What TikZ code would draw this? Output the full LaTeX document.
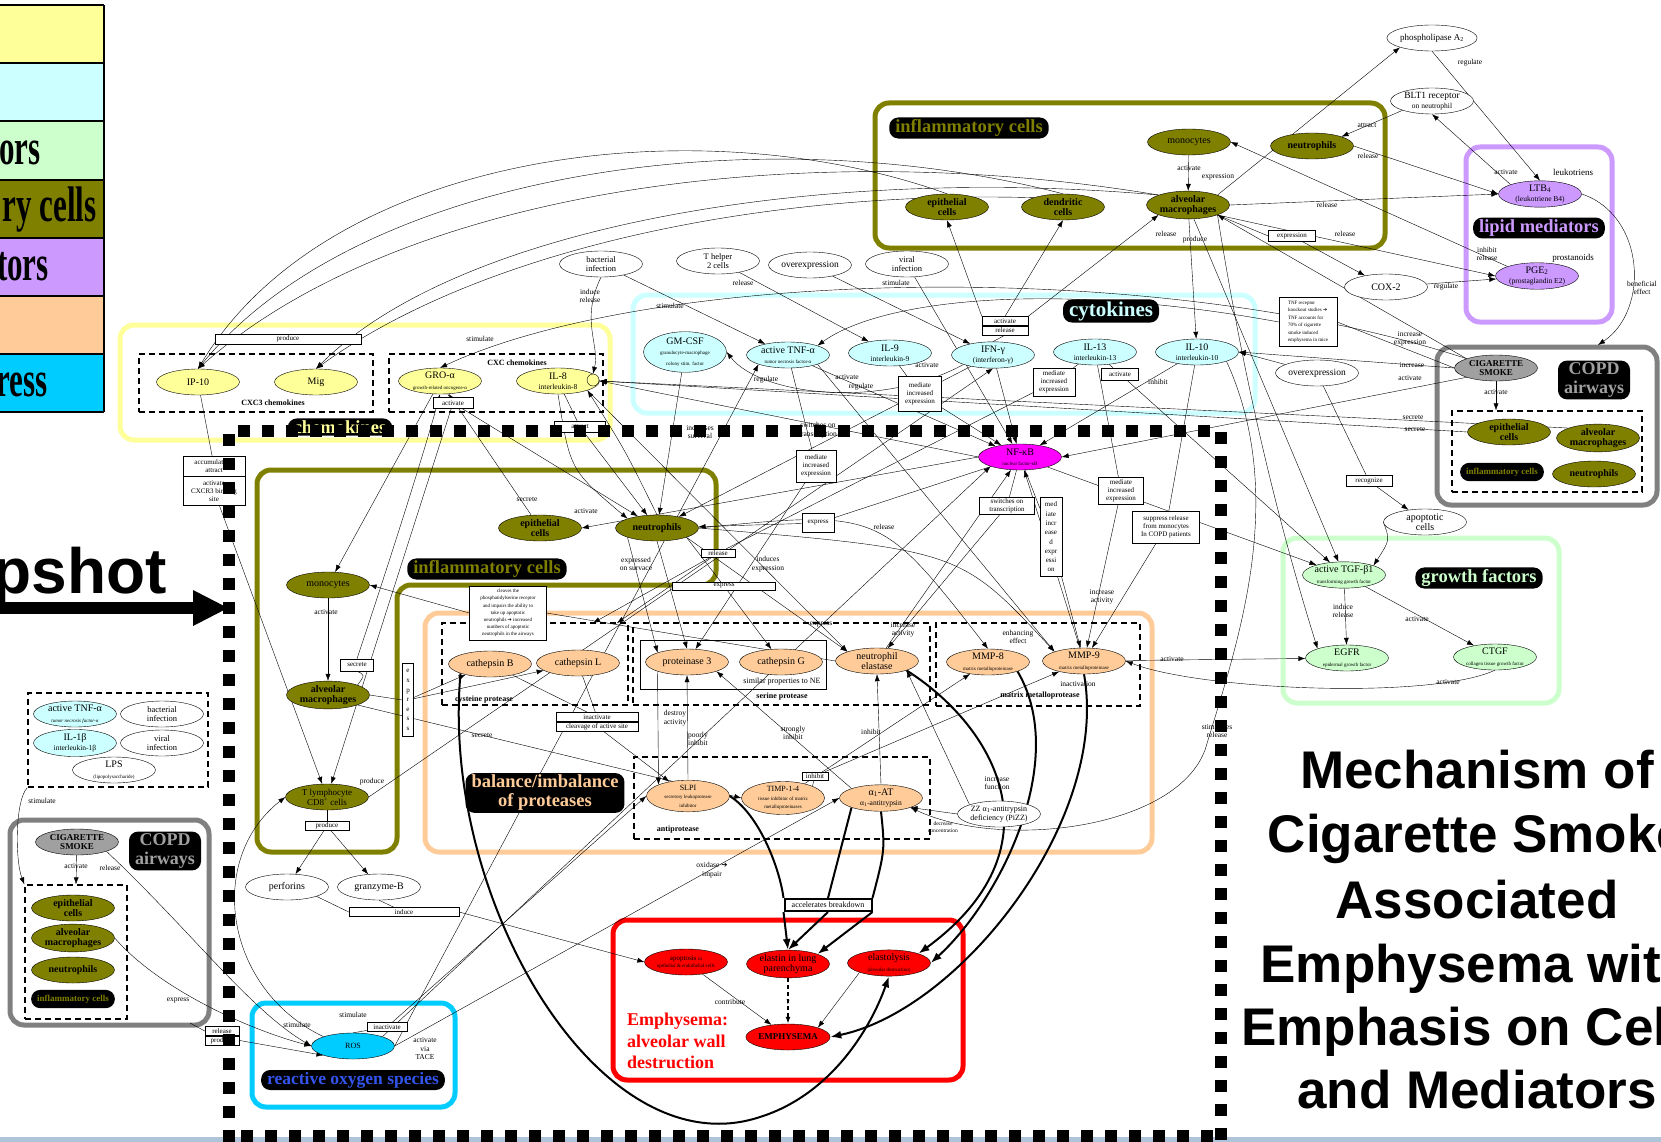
\documentclass[tikz,border=0pt]{standalone}
\usepackage{fontspec}
\setmainfont{Liberation Serif}
\newfontfamily\titlefont{Liberation Sans}
\newfontfamily\symfont{DejaVu Sans}
\usepackage{graphicx}
\usepackage{tikz}
\usetikzlibrary{arrows.meta,positioning,shapes}
\pgfdeclarelayer{background layer}
\pgfdeclarelayer{edge layer}
\pgfsetlayers{background layer,edge layer,main}
\definecolor{chemo}{HTML}{FFFF99}
\definecolor{cyto}{HTML}{CCFFFF}
\definecolor{growth}{HTML}{CCFFCC}
\definecolor{infl}{HTML}{808000}
\definecolor{lipid}{HTML}{CC99FF}
\definecolor{prot}{HTML}{FFCC99}
\definecolor{oxy}{HTML}{00CCFF}
\definecolor{copd}{HTML}{808080}
\definecolor{smoke}{HTML}{A0A0A0}
\definecolor{nfkbc}{HTML}{FF00FF}
\definecolor{strip}{HTML}{AFC4D8}
\definecolor{rosblue}{HTML}{3355EE}
\newcommand{\subl}[1]{{\fontsize{5}{6}\selectfont #1}}
\newcommand{\subm}[1]{{\fontsize{7.5}{8}\selectfont #1}}
\newcommand{\rarr}{{\symfont ➔}}

\begin{document}
\begin{tikzpicture}[x=1pt,y=-1pt,line width=0.7pt]
\tikzstyle{arrow}=[->,>={Latex[length=7pt,width=5pt]}]
\tikzstyle{heavy}=[line width=2pt,->,>={Latex[length=11pt,width=8pt]}]
\tikzstyle{ell}=[draw,ellipse,minimum width=83pt,minimum height=26pt,inner sep=0pt,align=center,font=\fontsize{10}{10.5}\selectfont]
\tikzstyle{whiteell}=[ell,fill=white]
\tikzstyle{chemell}=[ell,fill=chemo]
\tikzstyle{cytoell}=[ell,fill=cyto]
\tikzstyle{growell}=[ell,fill=growth]
\tikzstyle{lipell}=[ell,fill=lipid]
\tikzstyle{protell}=[ell,fill=prot]
\tikzstyle{redell}=[ell,fill=red]
\tikzstyle{magell}=[ell,fill=nfkbc]
\tikzstyle{olivecell}=[ell,fill=infl,font=\bfseries\fontsize{10}{10.5}\selectfont]
\tikzstyle{clusterframe}=[line width=5pt,rounded corners=14pt]
\tikzstyle{ctitle}=[fill=black,rounded corners=9pt,inner xsep=6pt,inner ysep=2pt,align=center,font=\bfseries\fontsize{18.5}{19}\selectfont]
\tikzstyle{dbox}=[draw,line width=1.3pt,dash pattern=on 6pt off 4pt,inner sep=0pt]
\tikzstyle{lbox}=[draw,fill=white,inner sep=0.5pt,align=center,font=\fontsize{7}{8}\selectfont]
\tikzstyle{elabel}=[inner sep=0.5pt,align=center,font=\fontsize{7.5}{8.5}\selectfont]
\tikzstyle{legtext}=[anchor=base east,inner sep=0pt,font=\bfseries\fontsize{50}{50}\selectfont]
\tikzstyle{bigtitle}=[anchor=base,inner sep=0pt,font=\titlefont\bfseries\fontsize{53}{53}\selectfont]
\useasboundingbox (0,0) rectangle (1661,1142);

% legend and snapshot arrow
\fill[chemo] (0,5) rectangle (104,63);
\fill[cyto] (0,63) rectangle (104,121);
\fill[growth] (0,121) rectangle (104,180);
\fill[infl] (0,180) rectangle (104,238);
\fill[lipid] (0,238) rectangle (104,296);
\fill[prot] (0,296) rectangle (104,354);
\fill[oxy] (0,354) rectangle (104,412);
\foreach \y in {5,63,121,180,238,296,354,412}
  \draw[line width=1.2pt] (0,\y) -- (104,\y);
\draw[line width=1.2pt] (104,5) -- (104,412);
\node[legtext] (lg1) at (41,165) {\scalebox{0.62}[1]{ors}};
\node[legtext] (lg2) at (97,222) {\scalebox{0.62}[1]{ry cells}};
\node[legtext] (lg3) at (49,280) {\scalebox{0.62}[1]{tors}};
\node[legtext] (lg4) at (48,396) {\scalebox{0.62}[1]{ress}};
\node[anchor=base east,inner sep=0pt,font=\titlefont\bfseries\fontsize{64}{64}\selectfont] (snap) at (167,593) {pshot};
\fill (0,602) rectangle (195,614);
\fill (193,590) -- (228,608) -- (193,626) -- cycle;
\fill[strip] (0,1137) rectangle (1661,1142);

\node[bigtitle] (t1) at (1477,788) {Mechanism of};
\node[bigtitle] (t2) at (1477,852) {Cigarette Smoke};
\node[bigtitle] (t3) at (1477,918) {Associated};
\node[bigtitle] (t4) at (1477,982) {Emphysema with};
\node[bigtitle] (t5) at (1477,1045) {Emphasis on Cells};
\node[bigtitle] (t6) at (1477,1108) {and Mediators};

\begin{pgfonlayer}{background layer}
\draw[clusterframe,draw=chemo] (120,325) rectangle (610,440);
\draw[clusterframe,draw=cyto] (633,295) rectangle (1255,413);
\draw[clusterframe,draw=infl] (875,103) rectangle (1385,248);
\draw[clusterframe,draw=lipid] (1466,147) rectangle (1612,322);
\draw[clusterframe,draw=copd] (1437,347) rectangle (1657,505);
\draw[clusterframe,draw=growth] (1283,538) rectangle (1559,703);
\draw[clusterframe,draw=infl] (257,470) -- (716,470) -- (716,585) -- (397,585) -- (397,852) -- (257,852) -- cycle;
\draw[clusterframe,draw=prot] (425,613) rectangle (1152,852);
\draw[clusterframe,draw=red] (613,920) rectangle (963,1080);
\draw[clusterframe,draw=oxy] (252,1003) rectangle (455,1107);
\draw[clusterframe,draw=copd] (10,820) rectangle (209,1025);
\end{pgfonlayer}

% chemokines
\node[dbox,minimum width=234pt,minimum height=58pt] (cxc3) at (256,383) {};
\node[dbox,minimum width=214pt,minimum height=58pt] (cxc) at (496,383) {};
\node[font=\bfseries\fontsize{8}{8}\selectfont] (cxc3lab) at (273,403) {CXC3 chemokines};
\node[font=\bfseries\fontsize{8}{8}\selectfont] (cxclab) at (517,363) {CXC chemokines};
\node[chemell] (ip10) at (198,382) {IP-10};
\node[chemell] (mig) at (316,382) {Mig};
\node[chemell] (groa) at (440,381) {GRO-α\\\subl{growth-related oncogene-α}};
\node[chemell] (il8) at (558,381) {IL-8\\\subm{interleukin-8}};
\node[draw,circle,fill=chemo,minimum size=12pt,inner sep=0pt] (il8r) at (593,380) {};
\node[lbox,minimum width=146pt,minimum height=10pt] (prbox) at (288,339) {produce};
\node[lbox,minimum width=40pt,minimum height=11pt] (gactbox) at (453,403) {activate};
\node[lbox,minimum width=51pt,minimum height=11pt] (attbox) at (580,427) {attract};
\node[ctitle,text=chemo] (chemT) at (340,427) {chemokines};

% cytokines
\node[cytoell] (gmcsf) at (685,352) {GM-CSF\\\subl{granulocyte-macrophage}\\\subl{colony stim. factor}};
\node[cytoell] (tnfa) at (788,355) {active TNF-α\\\subl{tumor necrosis factor-α}};
\node[cytoell] (il9) at (890,353) {IL-9\\\subm{interleukin-9}};
\node[cytoell] (ifng) at (993,355) {IFN-γ\\\subm{(interferon-γ)}};
\node[cytoell] (il13) at (1095,352) {IL-13\\\subm{interleukin-13}};
\node[cytoell] (il10) at (1197,352) {IL-10\\\subm{interleukin-10}};
\node[lbox,minimum width=46pt,minimum height=9pt] (actbox) at (1005,321) {activate};
\node[lbox,minimum width=46pt,minimum height=9pt,below=0pt of actbox] (relbox) {release};
\node[lbox,minimum width=43pt,minimum height=35pt] (med1) at (920,394) {mediate\\increased\\expression};
\node[lbox,minimum width=42pt,minimum height=28pt] (med2) at (1054,382) {mediate\\increased\\expression};
\node[lbox,minimum width=37pt,minimum height=12pt] (act2) at (1120,374) {activate};
\node[ctitle,text=cyto,font=\bfseries\fontsize{21}{21}\selectfont] (cytT) at (1111,311) {cytokines};
\node[whiteell,font=\fontsize{8.5}{9}\selectfont] (bact) at (601,264) {bacterial\\infection};
\node[whiteell,font=\fontsize{8.5}{9}\selectfont] (th2) at (718,261) {T helper\\2 cells};
\node[whiteell,font=\fontsize{9.5}{10}\selectfont] (overT) at (810,265) {overexpression};
\node[whiteell,font=\fontsize{8.5}{9}\selectfont] (viral) at (907,264) {viral\\infection};

% inflammatory cells, top
\node[ctitle,text=infl] (inflT) at (969,128) {inflammatory cells};
\node[olivecell,font=\fontsize{10}{10.5}\selectfont] (monoT) at (1189,142) {monocytes};
\node[olivecell] (neutT) at (1312,146) {neutrophils};
\node[olivecell] (epiT) at (947,207) {epithelial\\cells};
\node[olivecell] (dendT) at (1063,207) {dendritic\\cells};
\node[olivecell] (amT) at (1188,205) {alveolar\\macrophages};
\node[whiteell,font=\fontsize{9}{9}\selectfont] (pla) at (1432,38) {phospholipase A\textsubscript{2}};
\node[whiteell,font=\fontsize{9.5}{9.5}\selectfont] (blt) at (1432,101) {BLT1 receptor\\\subm{on neutrophil}};
\node[whiteell] (cox2) at (1386,287) {COX-2};
\node[lbox,minimum width=47pt,minimum height=11pt] (exbox) at (1292,236) {expression};
\node[lbox,minimum width=58pt,minimum height=49pt,align=left,font=\fontsize{5}{7.5}\selectfont] (tnfrbox) at (1308,322) {TNF receptor\\knockout studies \rarr\\TNF accounts for\\70\% of cigarette\\smoke induced\\emphysema in mice};
\node[whiteell,font=\fontsize{9.5}{10}\selectfont] (overR) at (1317,373) {overexpression};

% lipid mediators
\node[lipell] (ltb4) at (1540,194) {LTB\textsubscript{4}\\\subm{(leukotriene B4)}};
\node[lipell] (pge2) at (1537,276) {PGE\textsubscript{2}\\\subm{(prostaglandin E2)}};
\node[ctitle,text=lipid] (lipT) at (1539,228) {lipid mediators};

% COPD airways, right
\node[ell,fill=smoke,font=\bfseries\fontsize{9}{9.5}\selectfont] (smokeR) at (1496,368) {CIGARETTE\\SMOKE};
\node[ctitle,text=smoke,font=\bfseries\fontsize{18}{19}\selectfont] (copdRT) at (1594,380) {COPD\\airways};
\node[dbox,minimum width=190pt,minimum height=81pt] (dashR) at (1547,451.5) {};
\node[olivecell] (epiR) at (1509,432) {epithelial\\cells};
\node[olivecell] (amR) at (1598,438) {alveolar\\macrophages};
\node[ctitle,text=infl,font=\bfseries\fontsize{9}{9}\selectfont,inner ysep=5pt] (inflR) at (1502,472) {inflammatory cells};
\node[olivecell] (neutR) at (1594,474) {neutrophils};
\coordinate (copdtop) at (1598,345);

% growth factors
\node[ctitle,text=growth] (growT) at (1479,578) {growth factors};
\node[growell] (tgf) at (1344,575) {active TGF-β1\\\subl{transforming growth factor}};
\node[growell] (egfr) at (1347,658) {EGFR\\\subl{epidermal growth factor}};
\node[growell] (ctgf) at (1495,657) {CTGF\\\subl{collagen tissue growth factor}};
\node[whiteell] (apop) at (1425,522) {apoptotic\\cells};
\node[lbox,minimum width=46pt,minimum height=11pt] (recbox) at (1369,481) {recognize};

% inflammatory cells, middle
\node[ctitle,text=infl] (inflMT) at (487,569) {inflammatory cells};
\node[olivecell] (epiM) at (540,528) {epithelial\\cells};
\node[olivecell] (neutM) at (657,528) {neutrophils};
\node[olivecell,font=\fontsize{10}{10.5}\selectfont] (monoM) at (328,585) {monocytes};
\node[olivecell] (amM) at (328,695) {alveolar\\macrophages};
\node[olivecell,font=\fontsize{9}{10}\selectfont] (tlym) at (327,797) {T lymphocyte\\CD8\textsuperscript{+} cells};
\node[lbox,minimum width=62pt,minimum height=20pt] (accbox) at (214,466) {accumulate \&\\attract};
\node[lbox,minimum width=62pt,minimum height=29pt,below=0pt of accbox] (actbox3) {activate\\CXCR3 binding\\site};
\node[lbox,minimum width=33pt,minimum height=12pt] (secbox) at (357,665) {secrete};
\node[lbox,minimum width=11pt,minimum height=73pt,font=\fontsize{7}{9.6}\selectfont] (exbox1) at (408,700) {e\\x\\p\\r\\e\\s\\s};
\node[lbox,minimum width=44pt,minimum height=9pt] (prbox2) at (327,826) {produce};

% proteases
\node[ctitle,text=prot] (protT) at (545,793) {balance/imbalance\\of proteases};
\node[dbox,minimum width=186pt,minimum height=82pt] (cys) at (535,664) {};
\node[dbox,minimum width=297pt,minimum height=82pt] (ser) at (781.5,664) {};
\node[draw,line width=1pt,minimum width=186pt,minimum height=49pt,inner sep=0pt] (nebox) at (733,664.5) {};
\node[dbox,minimum width=204pt,minimum height=83pt] (mmp) at (1038,664.5) {};
\node[dbox,minimum width=296pt,minimum height=82pt] (anti) at (782,798) {};
\node[font=\bfseries\fontsize{8}{8}\selectfont] (cyslab) at (484,700) {cysteine protease};
\node[font=\bfseries\fontsize{8}{8}\selectfont] (serlab) at (782,697) {serine protease};
\node[font=\fontsize{8}{8}\selectfont] (nelab) at (782,682) {similar properties to NE};
\node[font=\bfseries\fontsize{8}{8}\selectfont] (mmplab) at (1040,696) {matrix metalloprotease};
\node[font=\bfseries\fontsize{8}{8}\selectfont] (antilab) at (678,830) {antiprotease};
\node[protell] (catb) at (490,664) {cathepsin B};
\node[protell] (catl) at (578,663) {cathepsin L};
\node[protell] (pr3) at (687,662) {proteinase 3};
\node[protell] (catg) at (781,662) {cathepsin G};
\node[protell] (ne) at (877,661) {neutrophil\\elastase};
\node[protell] (mmp8) at (988,662) {MMP-8\\\subl{matrix metalloproteinase}};
\node[protell] (mmp9) at (1084,661) {MMP-9\\\subl{matrix metalloproteinase}};
\node[protell,font=\fontsize{8}{8.5}\selectfont] (slpi) at (688,796) {SLPI\\\subl{secretory leukoprotease}\\\subl{inhibitor}};
\node[protell,font=\fontsize{8}{8.5}\selectfont] (timp) at (783,798) {TIMP-1-4\\\subl{tissue inhibitor of matrix}\\\subl{metalloproteinases}};
\node[protell] (a1at) at (881,798) {α\textsubscript{1}-AT\\\subm{α\textsubscript{1}-antitrypsin}};
\node[whiteell,font=\fontsize{8}{9}\selectfont] (zz) at (999,814) {ZZ α\textsubscript{1}-antitrypsin\\deficiency (PiZZ)};
\node[lbox,minimum width=77pt,minimum height=54pt,font=\fontsize{5}{7.2}\selectfont] (clvbox) at (508,613) {cleaves the\\phosphatidylserine receptor\\and impairs the ability to\\take up apoptotic\\neutrophils \rarr\ increased\\numbers of apoptotic\\neutrophils in the airways};
\node[lbox,minimum width=82pt,minimum height=9pt] (inbox1) at (597,717) {inactivate};
\node[lbox,minimum width=82pt,minimum height=9pt,below=0pt of inbox1] (inbox2) {cleavage of active site};
\node[lbox,minimum width=34pt,minimum height=8pt] (relbox2) at (718,553) {release};
\node[lbox,minimum width=103pt,minimum height=8pt] (exbox2) at (724,586) {express};
\node[lbox,minimum width=32pt,minimum height=19pt] (exbox3) at (818,523) {express};
\node[lbox,minimum width=26pt,minimum height=8pt] (inhbox) at (815,776) {inhibit};
\node[lbox,minimum width=40pt,minimum height=32pt] (med3) at (816,466) {mediate\\increased\\expression};
\node[magell] (nfkb) at (1020,457) {NF-κB\\\subl{nuclear factor-κB}};
\node[lbox,minimum width=55pt,minimum height=17pt] (swbox) at (1007,506) {switches on\\transcription};
\node[lbox,minimum width=22pt,minimum height=79pt,font=\fontsize{7}{9.3}\selectfont] (medv) at (1051,537) {med\\iate\\incr\\ease\\d\\expr\\essi\\on};
\node[lbox,minimum width=45pt,minimum height=27pt] (med4) at (1121,491) {mediate\\increased\\expression};
\node[lbox,minimum width=67pt,minimum height=32pt] (supbox) at (1166,527) {suppress release\\from monocytes\\In COPD patients};
\coordinate (cysin1) at (593,623);
\coordinate (cysin2) at (617,623);

% emphysema
\node[redell,font=\fontsize{7}{7.5}\selectfont] (apopt) at (686,962) {apoptosis {\fontsize{5}{5}\selectfont in}\\\subl{epithelial \& endothelial cells}};
\node[redell] (elastin) at (788,964) {elastin in lung\\parenchyma};
\node[redell] (elast) at (889,963) {elastolysis\\\subl{(alveolar destruction)}};
\node[redell,font=\bfseries\fontsize{9}{9}\selectfont] (emph) at (788,1037) {EMPHYSEMA};
\node[lbox,line width=2pt,minimum width=87pt,minimum height=12pt,font=\fontsize{8}{8}\selectfont] (accel) at (828,905) {accelerates breakdown};
\node[anchor=north west,align=left,text=red,inner sep=0pt,font=\bfseries\fontsize{18}{21.5}\selectfont] (emphtxt) at (627,1013) {Emphysema:\\alveolar wall\\destruction};

% reactive oxygen species
\node[ell,fill=oxy,font=\fontsize{8}{8}\selectfont] (ros) at (353,1046) {ROS};
\node[ctitle,text=rosblue,font=\bfseries\fontsize{17.5}{18}\selectfont] (rosT) at (353,1080) {reactive oxygen species};
\node[whiteell] (perf) at (287,887) {perforins};
\node[whiteell] (gran) at (379,887) {granzyme-B};
\node[lbox,minimum width=110pt,minimum height=9pt] (indbox) at (404,912) {induce};
\node[lbox,minimum width=40pt,minimum height=9pt] (inbox4) at (387,1027) {inactivate};

% COPD airways, left
\node[ell,fill=smoke,font=\bfseries\fontsize{9}{9.5}\selectfont] (smokeL) at (77,842) {CIGARETTE\\SMOKE};
\node[ctitle,text=smoke,font=\bfseries\fontsize{18}{19}\selectfont] (copdLT) at (165,851) {COPD\\airways};
\node[dbox,minimum width=102pt,minimum height=134pt] (dashL) at (76,952) {};
\node[olivecell] (epiL) at (73,908) {epithelial\\cells};
\node[olivecell] (amL) at (73,938) {alveolar\\macrophages};
\node[olivecell] (neutL) at (73,970) {neutrophils};
\node[ctitle,text=infl,font=\bfseries\fontsize{9}{9}\selectfont,inner ysep=5pt] (inflL) at (73,999) {inflammatory cells};
\node[lbox,minimum width=34pt,minimum height=9pt] (rpbox1) at (222,1031) {release};
\node[lbox,minimum width=34pt,minimum height=9pt,below=0pt of rpbox1] (rpbox2) {produce};
\coordinate (copdLbot) at (190,1023);
\node[dbox,minimum width=180pt,minimum height=94pt] (smallbox) at (118,740) {};
\node[cytoell] (tnfL) at (75,714) {active TNF-α\\\subl{\itshape tumor necrosis factor-α}};
\node[whiteell,font=\fontsize{8.5}{9}\selectfont] (bactL) at (162,714) {bacterial\\infection};
\node[cytoell] (il1b) at (75,743) {IL-1β\\\subm{interleukin-1β}};
\node[whiteell,font=\fontsize{8.5}{9}\selectfont] (viralL) at (162,743) {viral\\infection};
\node[whiteell] (lps) at (114,770) {LPS\\\subl{(lipopolysaccharide)}};

\begin{pgfonlayer}{edge layer}
\draw[arrow] (epiT.north) .. controls (700,105) and (330,150) .. (ip10.north);
\draw[arrow] (dendT.north) .. controls (760,115) and (360,170) .. (ip10.north);
\draw[arrow] (amT.north west) .. controls (800,135) and (400,190) .. (ip10.north);
\draw[arrow] (amT.north west) .. controls (820,165) and (460,225) .. (mig.north);
\draw[arrow] (dendT.north west) .. controls (760,190) and (480,250) .. (mig.north);
\draw[arrow] (monoT) -- (amT);
\draw[arrow] (amT.north east) -- (pla.south west);
\draw[arrow] (pla.south) -- (ltb4.north);
\draw[arrow] (blt.south west) -- (neutT.north east);
\draw[arrow] (ltb4.north west) -- (blt.south);
\draw[arrow] (neutT.east) -- (ltb4.west);
\draw[arrow] (amT.east) -- (ltb4.west);
\draw[arrow] (amT.south east) -- (pge2.west);
\draw (amT.south east) -- (exbox.west);
\draw[arrow] (exbox) -- (cox2);
\draw[arrow] (cox2) -- (pge2);
\draw[arrow] (pge2.north west) -- (monoT.east);
\draw[arrow] (ltb4.east) .. controls (1645,215) and (1650,310) .. (copdtop);
\draw[arrow] (smokeR.west) -- (il10.east);
\draw[arrow] (overR) -- (il10.east);
\draw[arrow] (smokeR.south west) -- (nfkb.east);
\draw[arrow] (smokeR.north west) -- (amT.south east);
\draw (smokeR.west) -- (tnfrbox.east);
\draw[arrow] (tnfrbox.west) .. controls (1050,280) and (880,300) .. (tnfa.north east);
\draw[arrow] (epiR.west) -- (il8.east);
\draw[arrow] (amR.north west) -- (il8.east);
\draw[arrow] (smokeR.north west) .. controls (1150,255) and (650,270) .. (groa.north);
\draw[arrow] (bact) -- (tnfa);
\draw[arrow] (bact.south) .. controls (580,320) and (600,345) .. (il8r.north);
\draw[arrow] (th2) -- (il9);
\draw[arrow] (overT) -- (ifng);
\draw[arrow] (viral) -- (nfkb);
\draw (ifng.north) -- (relbox.south);
\draw[arrow] (actbox.north west) -- (epiT.south);
\draw[arrow] (actbox.north) -- (dendT.south);
\draw[arrow] (actbox.north east) -- (amT.south west);
\draw[arrow] (ifng.south west) .. controls (880,410) and (760,395) .. (gmcsf.east);
\draw[arrow] (tnfa) -- (nfkb);
\draw[arrow] (tnfa.south east) -- (mmp9.north west);
\draw (il9) -- (med1);
\draw[arrow] (med1) -- (nfkb);
\draw[arrow] (ifng) -- (neutM);
\draw[arrow] (ifng) -- (nfkb);
\draw (il13) -- (med2);
\draw (med2) -- (relbox2);
\draw[arrow] (relbox2) -- (cysin1);
\draw[arrow] (relbox2) -- (cysin2);
\draw (il13) -- (act2);
\draw[arrow] (act2) -- (tgf);
\draw[arrow] (il10) -- (nfkb);
\draw (il13) -- (med4);
\draw[arrow] (med4) -- (mmp9);
\draw (il10) -- (supbox);
\draw[arrow] (supbox) -- (mmp9);
\draw[arrow] (amT) -- (il10);
\draw[arrow] (amT) -- (tgf);
\draw[arrow] (amT.south east) .. controls (1250,420) and (1290,560) .. (egfr.north west);
\draw (overR) -- (recbox);
\draw[arrow] (recbox) -- (apop);
\draw[arrow] (apop.west) .. controls (1390,540) .. (tgf.north east);
\draw[arrow] (nfkb) -- (tgf);
\draw[arrow] (tgf) -- (egfr);
\draw[arrow] (tgf) -- (ctgf);
\draw[arrow] (ctgf.south) .. controls (1430,700) and (1200,690) .. (mmp9.east);
\draw[arrow] (mmp9) -- (egfr);
\draw (ip10) -- (accbox);
\draw[arrow] (actbox3) -- (tlym);
\draw[arrow] (groa) -- (monoM);
\draw (groa) -- (gactbox);
\draw[arrow] (gactbox) -- (neutM);
\draw[arrow] (gactbox) -- (tlym);
\draw (amM.north east) .. controls (365,675) .. (secbox.south);
\draw[arrow] (secbox.north) .. controls (390,560) and (425,450) .. (groa.south);
\draw[arrow] (epiM) -- (groa);
\draw[arrow] (nfkb.west) -- (epiM.east);
\draw[arrow] (il8.south) .. controls (570,470) .. (neutM.north west);
\draw (il8) -- (attbox);
\draw[arrow] (attbox) -- (neutM);
\draw[arrow] (neutM.north) .. controls (625,450) .. (il8.south east);
\draw[arrow] (gmcsf) -- (neutM);
\draw[arrow] (nfkb.west) -- (il8.east);
\draw (tnfa) -- (med3);
\draw[arrow] (med3) -- (pr3);
\draw (nfkb) -- (exbox3);
\draw[arrow] (exbox3) -- (neutM);
\draw[arrow] (neutM.south west) -- (pr3.north west);
\draw[arrow] (neutM.south) -- (pr3.north);
\draw (neutM.south east) -- (exbox2);
\draw[arrow] (exbox2) -- (catg);
\draw[arrow] (neutM.south east) -- (ne.north west);
\draw[arrow] (il8.south east) -- (ne.north west);
\draw[arrow] (neutM.east) .. controls (880,510) .. (mmp8.north);
\draw[arrow] (neutM.east) .. controls (960,550) .. (mmp9.north west);
\draw (ne.west) -- (clvbox.east);
\draw[arrow] (clvbox.west) -- (monoM.east);
\draw (amM.east) -- (exbox1.west);
\draw[arrow] (exbox1) -- (catb);
\draw[arrow] (exbox1) -- (catl);
\draw[arrow] (amM.south east) -- (timp.west);
\draw[arrow] (monoM) -- (amM);
\draw (catb) -- (inbox1);
\draw (catl) -- (inbox1);
\draw[arrow] (inbox2) -- (slpi);
\draw[arrow] (pr3.south west) -- (slpi.north west);
\draw[arrow] (slpi.north) -- (pr3.south);
\draw[arrow] (a1at.north west) -- (pr3.south east);
\draw (timp.north east) -- (inhbox);
\draw[arrow] (inhbox) -- (mmp9);
\draw[arrow] (timp) -- (mmp8);
\draw[arrow] (a1at.north) -- (ne.south);
\draw[arrow] (zz.north west) -- (ne.south east);
\draw[arrow] (zz.west) -- (a1at.south east);
\draw[arrow] (ne) -- (nfkb);
\draw (nfkb) -- (swbox);
\draw[arrow] (swbox) -- (ne);
\draw (nfkb) -- (medv);
\draw[arrow] (medv) -- (mmp9);
\draw[arrow] (mmp9) -- (nfkb);
\draw[arrow] (il10.south east) .. controls (1290,500) and (1235,650) .. (1205,750) .. controls (1175,830) and (1000,850) .. (a1at.south east);
\draw[arrow] (ros.north west) .. controls (225,990) and (205,860) .. (tlym.west);
\draw[arrow] (ros.north east) -- (nfkb.south west);
\draw (ros.north) -- (inbox4);
\draw[arrow] (inbox4) -- (slpi.west);
\draw[arrow] (ros.east) -- (a1at.west);
\draw[arrow] (ros.east) -- (tnfa.south west);
\draw[arrow] (tlym.east) -- (ifng.south);
\draw (tlym) -- (prbox2);
\draw[arrow] (prbox2) -- (perf);
\draw[arrow] (prbox2) -- (gran);
\draw (perf.south east) -- (indbox.west);
\draw (gran.south) -- (indbox);
\draw[arrow] (indbox.east) -- (apopt.west);
\draw[arrow] (apopt) -- (emph);
\draw[arrow,line width=1.5pt,dash pattern=on 4pt off 3pt] (elastin) -- (emph);
\draw[arrow] (elast.south west) -- (emph.north east);
\draw[line width=2pt] (slpi.east) .. controls (760,815) and (780,870) .. (accel.north west);
\draw[line width=2pt] (a1at.south west) -- (accel.north);
\draw[line width=2pt] (a1at.south) .. controls (885,850) .. (accel.north east);
\draw[heavy] (accel.south west) -- (elastin.north);
\draw[heavy] (accel.south) -- (elastin.north);
\draw[heavy] (accel.south east) -- (elastin.north east);
\draw[heavy] (ne.south east) .. controls (1000,730) and (1060,850) .. (elast.north east);
\draw[heavy] (mmp8.south east) .. controls (1070,760) and (1000,900) .. (elast.east);
\draw[heavy] (mmp9.south) .. controls (1110,820) and (960,1010) .. (emph.east);
\draw[heavy] (catb.south west) .. controls (440,900) and (600,1170) .. (760,1117) .. controls (830,1095) and (870,1030) .. (elast.south);
\draw[arrow] (smokeL) -- (dashL.north);
\draw[arrow] (smokeL.south east) .. controls (190,930) and (250,1010) .. (ros.west);
\draw[arrow] (amL.east) .. controls (160,990) and (250,1030) .. (ros.west);
\draw (copdLbot) -- (rpbox1.west);
\draw[arrow] (rpbox2.east) -- (ros.south west);
\draw[arrow] (smallbox.south west) .. controls (15,800) and (15,860) .. (dashL.north west);
\draw[arrow] (smokeR) -- (smokeR |- dashR.north);
\end{pgfonlayer}

% edge labels
\node[elabel] (lb1) at (1189,168) {activate};
\node[elabel] (lb2) at (1218,177) {expression};
\node[elabel] (lb3) at (1166,234) {release};
\node[elabel] (lb4) at (1195,240) {produce};
\node[elabel] (lb5) at (1367,125) {attract};
\node[elabel] (lb6) at (1368,156) {release};
\node[elabel] (lb7) at (1470,63) {regulate};
\node[elabel] (lb8) at (1506,172) {activate};
\node[elabel,font=\fontsize{9}{9}\selectfont] (lb9) at (1573,172) {leukotriens};
\node[elabel,font=\fontsize{9}{9}\selectfont] (lb10) at (1573,258) {prostanoids};
\node[elabel] (lb11) at (1487,254) {inhibit\\release};
\node[elabel] (lb12) at (1327,205) {release};
\node[elabel] (lb13) at (1345,234) {release};
\node[elabel] (lb14) at (1446,287) {regulate};
\node[elabel] (lb15) at (1642,288) {beneficial\\effect};
\node[elabel] (lb16) at (1410,339) {increase\\expression};
\node[elabel] (lb17) at (1412,365) {increase};
\node[elabel] (lb18) at (1410,378) {activate};
\node[elabel] (lb19) at (1413,417) {secrete};
\node[elabel] (lb20) at (1415,429) {secrete};
\node[elabel] (lb21) at (1496,392) {activate};
\node[elabel] (lb22) at (590,296) {induce\\release};
\node[elabel] (lb23) at (670,306) {stimulate};
\node[elabel] (lb24) at (743,283) {release};
\node[elabel] (lb25) at (896,283) {stimulate};
\node[elabel] (lb26) at (480,339) {stimulate};
\node[elabel] (lb27) at (766,380) {regulate};
\node[elabel] (lb28) at (847,377) {activate};
\node[elabel] (lb29) at (861,387) {regulate};
\node[elabel] (lb30) at (927,365) {activate};
\node[elabel] (lb31) at (1158,382) {inhibit};
\node[elabel] (lb32) at (527,499) {secrete};
\node[elabel] (lb33) at (586,511) {activate};
\node[elabel] (lb34) at (636,564) {expressed\\on survace};
\node[elabel] (lb35) at (700,432) {increases\\survival};
\node[elabel] (lb36) at (818,430) {switches on\\transcription};
\node[elabel] (lb37) at (768,564) {induces\\expression};
\node[elabel] (lb38) at (821,625) {express};
\node[elabel] (lb39) at (884,527) {release};
\node[elabel] (lb40) at (1018,637) {enhancing\\effect};
\node[elabel] (lb41) at (903,630) {increase\\activity};
\node[elabel] (lb42) at (1102,597) {increase\\activity};
\node[elabel] (lb43) at (1078,684) {inactivation};
\node[elabel] (lb44) at (1172,659) {activate};
\node[elabel] (lb45) at (1217,731) {stimulates\\release};
\node[elabel] (lb46) at (1343,611) {induce\\release};
\node[elabel] (lb47) at (1417,619) {activate};
\node[elabel] (lb48) at (1448,682) {activate};
\node[elabel] (lb49) at (326,612) {activate};
\node[elabel] (lb50) at (482,735) {secrete};
\node[elabel] (lb51) at (675,718) {destroy\\activity};
\node[elabel] (lb52) at (698,739) {poorly\\inhibit};
\node[elabel] (lb53) at (793,733) {strongly\\inhibit};
\node[elabel] (lb54) at (871,732) {inhibit};
\node[elabel] (lb55) at (997,783) {increase\\function};
\node[elabel,font=\fontsize{5.5}{6.5}\selectfont] (lb56) at (943,827) {decrease\\concentration};
\node[elabel] (lb57) at (712,870) {oxidase \rarr\\impair};
\node[elabel] (lb58) at (372,782) {produce};
\node[elabel] (lb59) at (297,1025) {stimulate};
\node[elabel] (lb60) at (353,1015) {stimulate};
\node[elabel] (lb61) at (425,1049) {activate\\via\\TACE};
\node[elabel] (lb62) at (730,1002) {contribute};
\node[elabel] (lb63) at (788,1002) {?};
\node[elabel] (lb64) at (76,866) {activate};
\node[elabel] (lb65) at (110,868) {release};
\node[elabel] (lb66) at (178,1001) {express};
\node[elabel] (lb67) at (42,801) {stimulate};

% snapshot frame on top
\draw[line width=12pt,dash pattern=on 12pt off 12pt] (229,1142) -- (229,431) -- (1221,431) -- (1221,1142);
\draw[line width=12pt,dash pattern=on 12pt off 12pt] (241,1136) -- (1221,1136);
\end{tikzpicture}
\end{document}
